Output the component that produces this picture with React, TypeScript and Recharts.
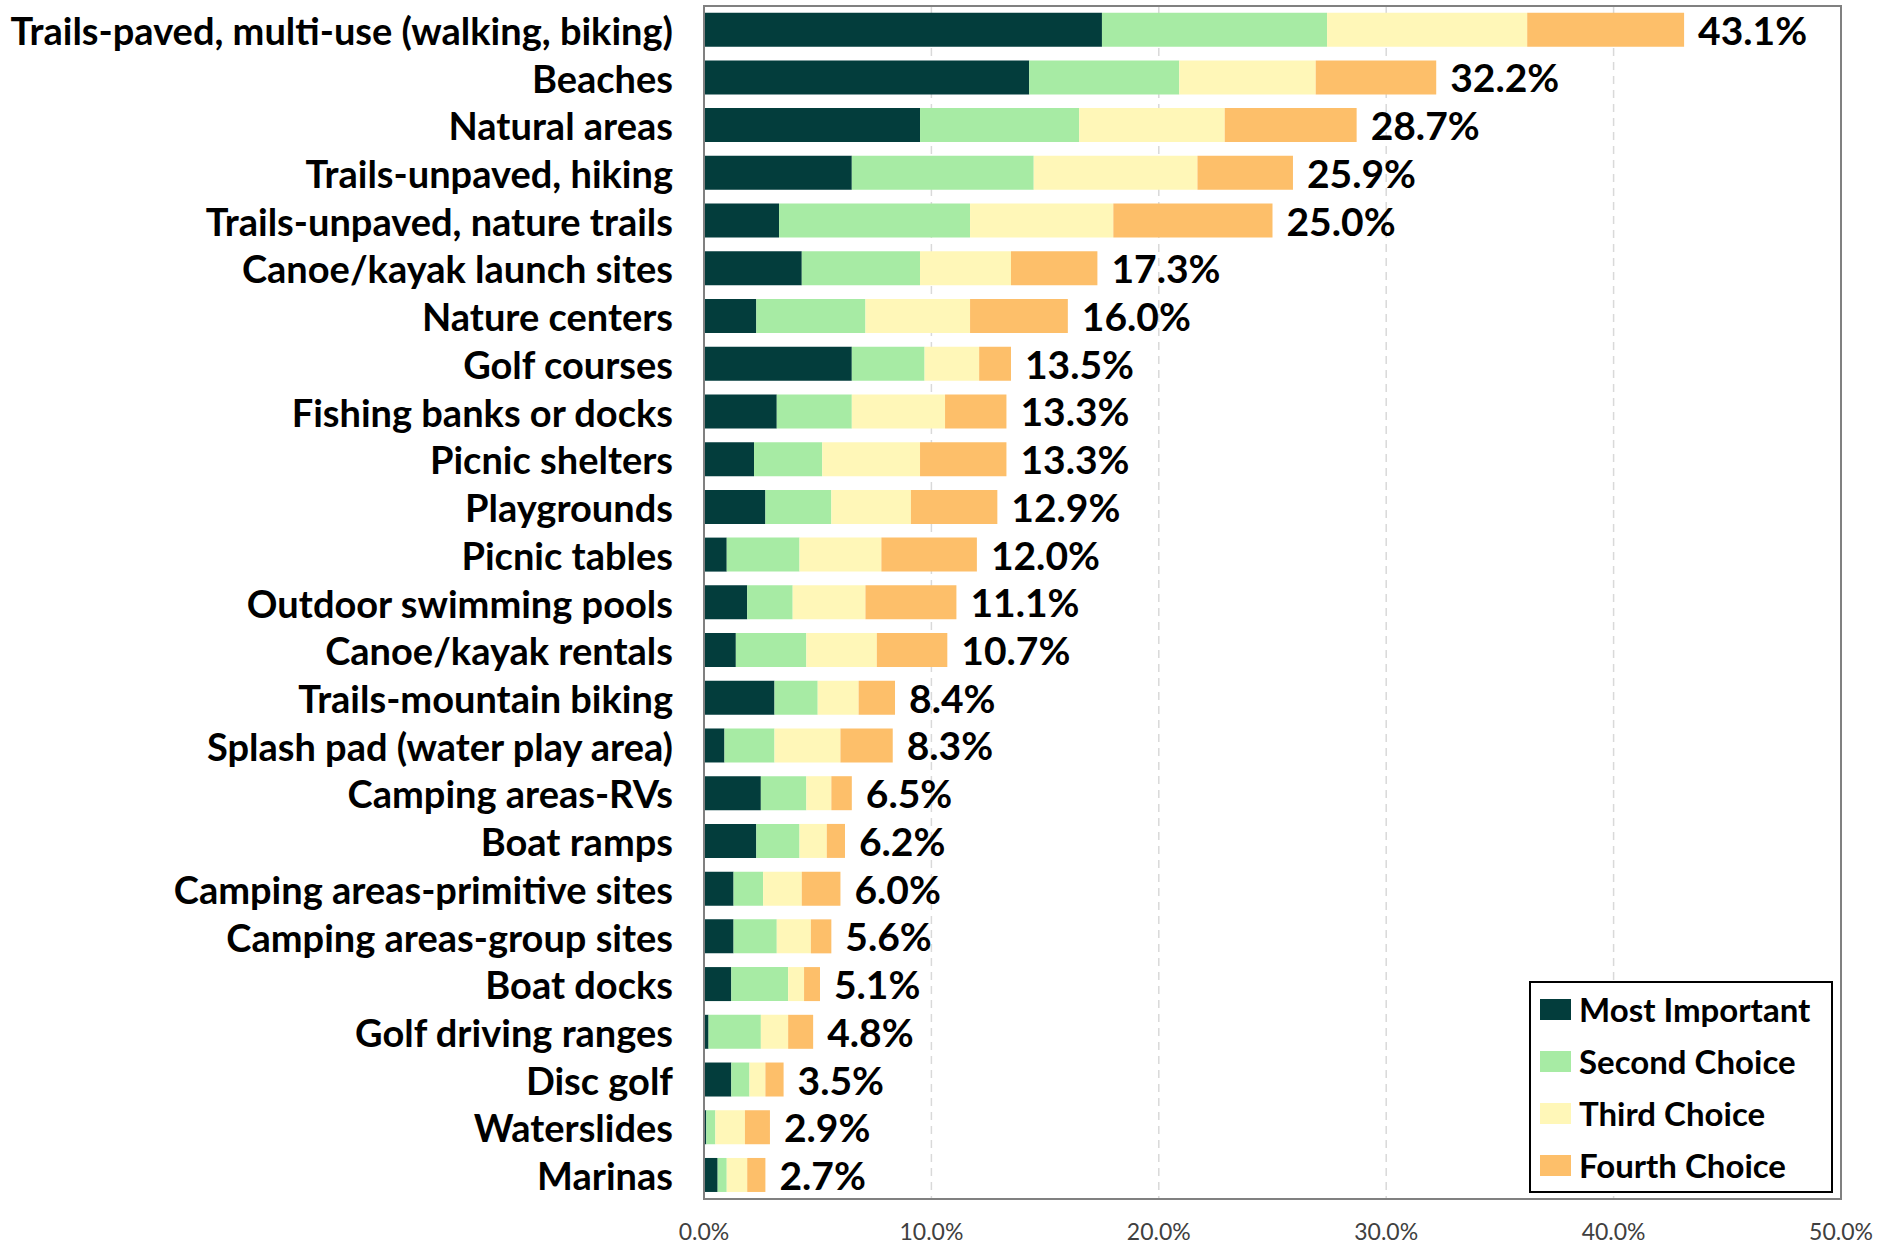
import React from 'react';
import { BarChart, Bar, XAxis, YAxis, CartesianGrid, ReferenceArea, LabelList, Legend } from 'recharts';

const categories = [
  'Trails-paved, multi-use (walking, biking)',
  'Beaches',
  'Natural areas',
  'Trails-unpaved, hiking',
  'Trails-unpaved, nature trails',
  'Canoe/kayak launch sites',
  'Nature centers',
  'Golf courses',
  'Fishing banks or docks',
  'Picnic shelters',
  'Playgrounds',
  'Picnic tables',
  'Outdoor swimming pools',
  'Canoe/kayak rentals',
  'Trails-mountain biking',
  'Splash pad (water play area)',
  'Camping areas-RVs',
  'Boat ramps',
  'Camping areas-primitive sites',
  'Camping areas-group sites',
  'Boat docks',
  'Golf driving ranges',
  'Disc golf',
  'Waterslides',
  'Marinas',
];

const mostImportant = [17.5, 14.3, 9.5, 6.5, 3.3, 4.3, 2.3, 6.5, 3.2, 2.2, 2.7, 1.0, 1.9, 1.4, 3.1, 0.9, 2.5, 2.3, 1.3, 1.3, 1.2, 0.2, 1.2, 0.1, 0.6];
const secondChoice = [9.9, 6.6, 7.0, 8.0, 8.4, 5.2, 4.8, 3.2, 3.3, 3.0, 2.9, 3.2, 2.0, 3.1, 1.9, 2.2, 2.0, 1.9, 1.3, 1.9, 2.5, 2.3, 0.8, 0.4, 0.4];
const thirdChoice = [8.8, 6.0, 6.4, 7.2, 6.3, 4.0, 4.6, 2.4, 4.1, 4.3, 3.5, 3.6, 3.2, 3.1, 1.8, 2.9, 1.1, 1.2, 1.7, 1.5, 0.7, 1.2, 0.7, 1.3, 0.9];
const fourthChoice = [6.9, 5.3, 5.8, 4.2, 7.0, 3.8, 4.3, 1.4, 2.7, 3.8, 3.8, 4.2, 4.0, 3.1, 1.6, 2.3, 0.9, 0.8, 1.7, 0.9, 0.7, 1.1, 0.8, 1.1, 0.8];
const totals = [43.1, 32.2, 28.7, 25.9, 25.0, 17.3, 16.0, 13.5, 13.3, 13.3, 12.9, 12.0, 11.1, 10.7, 8.4, 8.3, 6.5, 6.2, 6.0, 5.6, 5.1, 4.8, 3.5, 2.9, 2.7];

const xTicks = [0, 10, 20, 30, 40, 50];

const seriesNames = ['Most Important', 'Second Choice', 'Third Choice', 'Fourth Choice'];
const seriesKeys = ['most', 'second', 'third', 'fourth'];
const seriesColors = ['#033d3c', '#a7eba4', '#fff7b8', '#fdbf6a'];

const data = categories.map((name, i) => ({
  name,
  most: mostImportant[i],
  second: secondChoice[i],
  third: thirdChoice[i],
  fourth: fourthChoice[i],
  total: totals[i],
}));

const FONT = 'Lato, "Noto Sans", sans-serif';

const CategoryTick = (props: any) => {
  const { x, y, payload } = props;
  return (
    <text x={x - 31} y={y} textAnchor="end" dominantBaseline="central" fontFamily={FONT} fontWeight={700} fontSize={38} fill="#000">
      {payload.value}
    </text>
  );
};

const TotalLabel = (props: any) => {
  const { x, y, width, height, value } = props;
  return (
    <text x={x + width + 14} y={y + height / 2} dominantBaseline="central" fontFamily={FONT} fontWeight={700} fontSize={39} fill="#000">
      {Number(value).toFixed(1)}%
    </text>
  );
};

const LegendBox = () => (
  <div style={{ border: '2px solid #000', background: '#fff', width: 300, height: 208, boxSizing: 'content-box', fontFamily: FONT }}>
    {seriesNames.map((n, i) => (
      <div key={n} style={{ height: 52, display: 'flex', alignItems: 'center', paddingLeft: 9 }}>
        <div style={{ width: 31, height: 21, background: seriesColors[i], marginRight: 8 }} />
        <span style={{ fontWeight: 700, fontSize: 33, color: '#000', lineHeight: '52px', whiteSpace: 'nowrap' }}>{n}</span>
      </div>
    ))}
  </div>
);

export default function App() {
  return (
    <div style={{ position: 'absolute', left: 0, top: 0, width: 1891, height: 1246, background: '#fff' }}>
      <BarChart
        width={1891}
        height={1246}
        data={data}
        layout="vertical"
        margin={{ top: 6, right: 50, bottom: 0, left: 0 }}
        barCategoryGap="14%"
      >
        <CartesianGrid horizontal={false} vertical={true} stroke="#d9d9d9" strokeDasharray="8 6" strokeWidth={1.5} />
        <XAxis
          type="number"
          domain={[0, 50]}
          ticks={xTicks}
          height={47}
          tickFormatter={(v: number) => v.toFixed(1) + '%'}
          tickLine={false}
          tickSize={0}
          tickMargin={25}
          axisLine={{ stroke: '#808080', strokeWidth: 2 }}
          tick={{ fontFamily: FONT, fontSize: 23, fill: '#404040' }}
          allowDataOverflow
        />
        <YAxis
          type="category"
          dataKey="name"
          width={704}
          tickLine={false}
          tickSize={0}
          tickMargin={0}
          axisLine={{ stroke: '#808080', strokeWidth: 2 }}
          tick={<CategoryTick />}
          interval={0}
        />
        {seriesKeys.map((k, i) => (
          <Bar key={k} dataKey={k} name={seriesNames[i]} stackId="a" fill={seriesColors[i]} isAnimationActive={false}>
            {k === 'fourth' ? <LabelList dataKey="total" content={<TotalLabel />} /> : null}
          </Bar>
        ))}
        <ReferenceArea x1={0} x2={50} fill="none" fillOpacity={0} stroke="#808080" strokeWidth={2} ifOverflow="visible" />
        <Legend
          layout="vertical"
          align="center"
          verticalAlign="middle"
          content={<LegendBox />}
          wrapperStyle={{ position: 'absolute', left: 1529, top: 981, width: 304, height: 212 }}
        />
      </BarChart>
    </div>
  );
}
